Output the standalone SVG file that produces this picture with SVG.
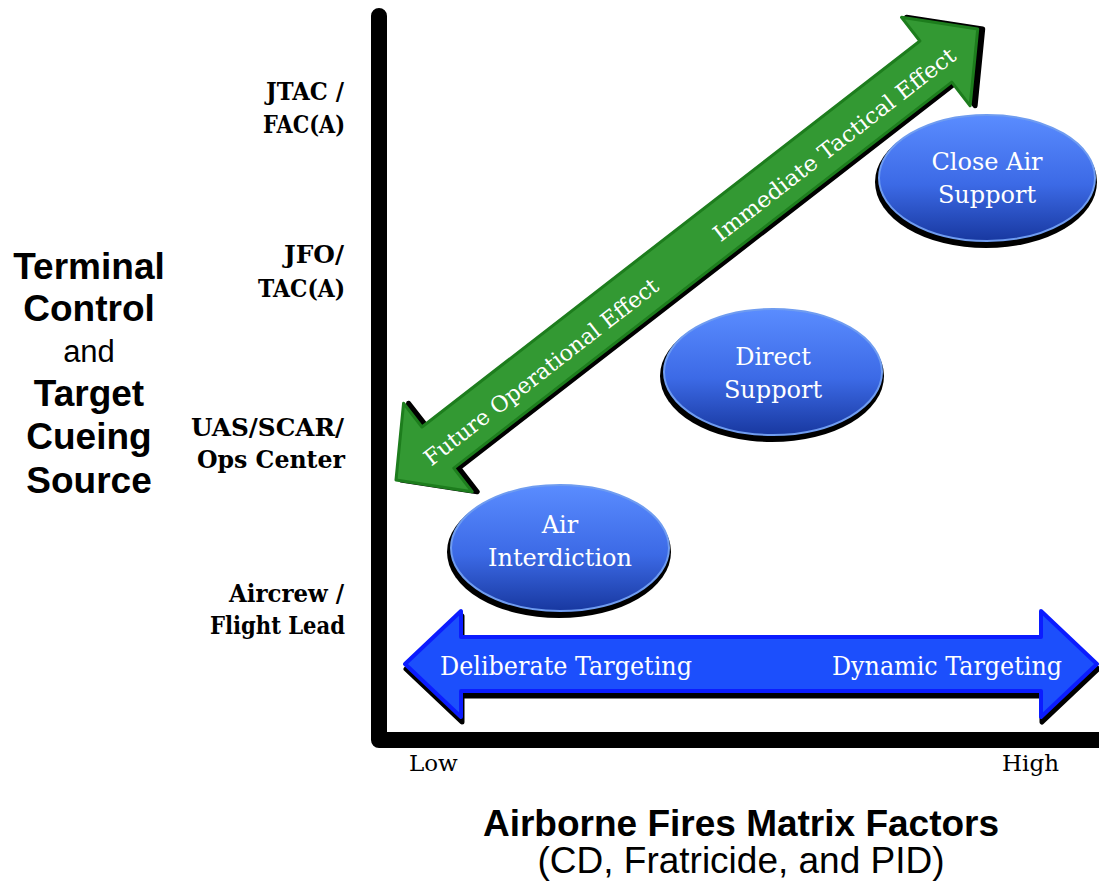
<svg xmlns="http://www.w3.org/2000/svg" width="1099" height="886" viewBox="0 0 1099 886">
<defs>
<linearGradient id="blueGrad" x1="0" y1="0" x2="0" y2="1">
<stop offset="0" stop-color="#5a8cff"/>
<stop offset="0.55" stop-color="#3c6ae6"/>
<stop offset="1" stop-color="#1838a0"/>
</linearGradient>
<style>
.ttl{font-family:"Liberation Sans",Arial,sans-serif;font-weight:bold;font-size:37px;fill:#000;text-anchor:middle}
.ttlr{font-family:"Liberation Sans",Arial,sans-serif;font-size:37px;fill:#000;text-anchor:middle}
.lbl{font-family:"DejaVu Serif","Liberation Serif",serif;font-weight:bold;font-size:24px;fill:#000;text-anchor:end}
.ell{font-family:"DejaVu Serif","Liberation Serif",serif;font-size:24px;fill:#fff;text-anchor:middle}
.arr{font-family:"DejaVu Serif","Liberation Serif",serif;font-size:26px;fill:#fff}
.grn{font-family:"DejaVu Serif","Liberation Serif",serif;font-size:22px;fill:#fff;text-anchor:middle}
.lh{font-family:"DejaVu Serif","Liberation Serif",serif;font-size:23px;fill:#000}
.shadow{fill:#000;stroke:#000;stroke-width:5;stroke-linejoin:round}
.eshadow{fill:#000}
.ellipse{fill:url(#blueGrad);stroke:#6f9cf0;stroke-width:2}
</style>
</defs>
<rect width="1099" height="886" fill="#fff"/>

<g id="axes">
<path d="M379,16 L379,740 L1099,740" fill="none" stroke="#000" stroke-width="16" stroke-linecap="round" stroke-linejoin="round"/>
</g>

<g id="y-title">
<text class="ttl" x="89" y="279">Terminal</text>
<text class="ttl" x="89" y="321">Control</text>
<text class="ttlr" x="89" y="362" style="font-size:31px">and</text>
<text class="ttl" x="89" y="406">Target</text>
<text class="ttl" x="89" y="449">Cueing</text>
<text class="ttl" x="89" y="493">Source</text>
</g>

<g id="y-levels">
<text class="lbl" x="344" y="100" textLength="78" lengthAdjust="spacingAndGlyphs">JTAC /</text>
<text class="lbl" x="345" y="133" textLength="82" lengthAdjust="spacingAndGlyphs">FAC(A)</text>
<text class="lbl" x="344" y="263" textLength="60" lengthAdjust="spacingAndGlyphs">JFO/</text>
<text class="lbl" x="345" y="297" textLength="87" lengthAdjust="spacingAndGlyphs">TAC(A)</text>
<text class="lbl" x="344" y="436" textLength="153" lengthAdjust="spacingAndGlyphs">UAS/SCAR/</text>
<text class="lbl" x="345" y="468" textLength="148" lengthAdjust="spacingAndGlyphs">Ops Center</text>
<text class="lbl" x="344" y="602" textLength="115" lengthAdjust="spacingAndGlyphs">Aircrew /</text>
<text class="lbl" x="345" y="634" textLength="135" lengthAdjust="spacingAndGlyphs">Flight Lead</text>
</g>

<g id="x-title">
<text class="ttl" x="741" y="836">Airborne Fires Matrix Factors</text>
<text class="ttlr" x="741" y="873">(CD, Fratricide, and PID)</text>
</g>

<g id="x-levels">
<text class="lh" x="409" y="771">Low</text>
<text class="lh" x="1002" y="771">High</text>
</g>

<g id="connectors">
<g id="green-arrow" transform="translate(396,480) rotate(-37.78)">
<path class="shadow" transform="translate(4,3)" d="M0,0 L53,-56 L53,-26 L683,-26 L683,-56 L736,0 L683,56 L683,26 L53,26 L53,56 Z"/>
<path d="M0,0 L53,-56 L53,-26 L683,-26 L683,-56 L736,0 L683,56 L683,26 L53,26 L53,56 Z" fill="#339933" stroke="#1d7d1d" stroke-width="3" stroke-linejoin="round"/>
<text class="grn" x="181" y="11" textLength="290" lengthAdjust="spacingAndGlyphs">Future Operational Effect</text>
<text class="grn" x="552" y="11" textLength="300" lengthAdjust="spacingAndGlyphs">Immediate Tactical Effect</text>
</g>
<g id="blue-arrow">
<path class="shadow" transform="translate(1,5)" d="M405,664 L461,611 L461,637 L1041,637 L1041,611 L1097,664 L1041,717 L1041,691 L461,691 L461,717 Z"/>
<path d="M405,664 L461,611 L461,637 L1041,637 L1041,611 L1097,664 L1041,717 L1041,691 L461,691 L461,717 Z" fill="#1c4ffc" stroke="#0b1cff" stroke-width="4" stroke-linejoin="round"/>
<text class="arr" x="440" y="675" textLength="252" lengthAdjust="spacingAndGlyphs">Deliberate Targeting</text>
<text class="arr" x="832" y="675" textLength="230" lengthAdjust="spacingAndGlyphs">Dynamic Targeting</text>
</g>
</g>

<g id="node-cas">
<ellipse class="eshadow" cx="986" cy="182" rx="111" ry="66"/>
<ellipse class="ellipse" cx="987" cy="178" rx="108" ry="63"/>
<text class="ell" x="987" y="170">Close Air</text>
<text class="ell" x="987" y="203">Support</text>
</g>

<g id="node-ds">
<ellipse class="eshadow" cx="772" cy="376" rx="112" ry="66"/>
<ellipse class="ellipse" cx="773" cy="372" rx="109" ry="63"/>
<text class="ell" x="773" y="365">Direct</text>
<text class="ell" x="773" y="398">Support</text>
</g>

<g id="node-ai">
<ellipse class="eshadow" cx="559" cy="552" rx="112" ry="66"/>
<ellipse class="ellipse" cx="560" cy="548" rx="109" ry="63"/>
<text class="ell" x="560" y="533">Air</text>
<text class="ell" x="560" y="566">Interdiction</text>
</g>
</svg>
